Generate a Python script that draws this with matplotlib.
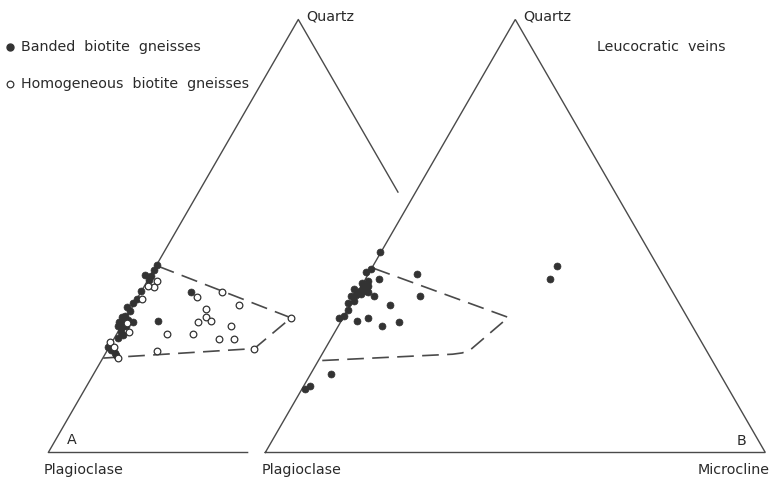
import numpy as np
import matplotlib
matplotlib.use("Agg")
import matplotlib.pyplot as plt

# ---------------- data (Quartz %, Microcline %; Plagioclase = rest) ----------------
# Diagram A
a_banded_q = [43.3, 42.1, 41.0, 40.8, 39.8, 37.4, 35.5, 34.5, 33.7, 32.7, 31.2, 31.5, 30.2, 30.2,
              30.6, 30.2, 29.1, 28.9, 29.2, 27.9, 27.1, 26.4, 24.4, 23.7, 23.0, 22.5, 37.1, 30.3]
a_banded_k = [0.0, 0.0, -1.2, 0.1, 0.3, -0.2, 0.0, -0.3, -1.2, -0.1, -0.9, -0.4, -0.9, 0.0,
              0.7, 1.9, -0.7, 0.2, 0.9, 0.5, 1.4, 0.8, -0.2, 0.7, 1.8, 2.3, 10.0, 6.7]
a_homog_q = [39.7, 38.3, 38.5, 35.5, 29.8, 27.9, 25.5, 24.3, 21.8, 37.1, 36.0, 34.1, 33.1, 31.1,
             31.2, 30.2, 30.3, 29.1, 27.3, 27.4, 26.2, 26.1, 24.0, 23.5]
a_homog_k = [1.8, 1.9, 0.6, 1.0, 0.9, 2.1, -0.4, 0.9, 3.1, 16.1, 11.8, 21.0, 15.0, 33.0,
             16.0, 14.8, 17.4, 22.0, 10.1, 15.2, 21.0, 24.1, 29.1, 9.9]
a_field_q = [43.0, 31.1, 24.0, 21.8]
a_field_k = [0.5, 33.0, 29.2, 0.0]

# Diagram B (Leucocratic veins)
b_veins_q = [46.2, 42.4, 41.7, 40.1, 41.2, 39.7, 39.1, 38.3, 38.5, 37.7, 37.4, 37.4, 36.8, 37.1,
             36.2, 36.4, 36.6, 36.1, 36.1, 34.9, 34.5, 32.9, 34.1, 31.5, 31.1, 30.3, 31.1, 29.1,
             30.1, 18.2, 15.3, 14.6, 43.0, 40.0]
b_veins_k = [-0.2, 0.0, -0.7, 2.6, 9.8, 0.6, -0.3, 0.3, 1.2, -1.1, 0.3, 1.4, 0.0, 1.9,
             -1.0, 0.0, 0.8, 3.7, 12.9, 0.3, -0.8, 0.0, 7.9, 0.0, -0.8, 3.2, 4.9, 8.8,
             11.7, 4.1, 1.3, 0.7, 36.9, 37.0]
b_field_q = [42.5, 31.2, 23.8, 23.0, 22.7, 21.2]
b_field_k = [0.5, 33.0, 29.2, 27.9, 26.1, 0.0]

# Outlines (Quartz %, Microcline %)
a_outline_q = [0, 0, 100, 60]
a_outline_k = [40, 0, 0, 40]
b_outline_q = [0, 100, 0, 0]
b_outline_k = [0, 0, 100, 0]

W, H = 772, 483
B_OFFSET = 0.434
S3 = np.sqrt(3) / 2


def tern(q, k, off=0.0):
    q = np.asarray(q, float) / 100.0
    k = np.asarray(k, float) / 100.0
    return off + k + q / 2.0, q * S3


fig = plt.figure(figsize=(W / 100, H / 100), dpi=100)
ax = fig.add_axes([0, 0, 1, 1])
ax.set_xlim(-48.3 / 500, (W - 48.3) / 500)
ax.set_ylim((452.5 - H) / 500, 452.5 / 500)
ax.axis("off")

LC = "#4a4a4a"
PC = "#333333"

# outlines
x, y = tern(a_outline_q, a_outline_k)
ax.plot(x, y, color=LC, lw=1.0, solid_capstyle="butt")
x, y = tern(b_outline_q, b_outline_k, B_OFFSET)
ax.plot(x, y, color=LC, lw=1.0, solid_joinstyle="miter")

# fields
dash = (0, (10, 5))
x, y = tern(a_field_q, a_field_k)
ax.plot(x, y, color=LC, lw=1.2, linestyle=dash)
x, y = tern(b_field_q, b_field_k, B_OFFSET)
ax.plot(x, y, color=LC, lw=1.2, linestyle=dash)

# points
x, y = tern(a_banded_q, a_banded_k)
ax.plot(x, y, "o", ms=5.0, mfc=PC, mec=PC, mew=0.5, ls="none", zorder=3)
x, y = tern(a_homog_q, a_homog_k)
ax.plot(x, y, "o", ms=4.8, mfc="white", mec=PC, mew=0.9, ls="none", zorder=4)
x, y = tern(b_veins_q, b_veins_k, B_OFFSET)
ax.plot(x, y, "o", ms=5.0, mfc=PC, mec=PC, mew=0.5, ls="none", zorder=3)

# texts
FS = 10.3
TC = "#2a2a2a"


def ftext(px, py, s, **kw):
    fig.text(px / W, 1 - py / H, s, fontsize=kw.pop("fontsize", FS), color=TC,
             family="DejaVu Sans", **kw)


ftext(306, 16, "Quartz", ha="left", va="center")
ftext(523, 17, "Quartz", ha="left", va="center")
ftext(597, 47, "Leucocratic  veins", ha="left", va="center")
ftext(21, 47, "Banded  biotite  gneisses", ha="left", va="center")
ftext(21, 84, "Homogeneous  biotite  gneisses", ha="left", va="center")
ftext(84, 470, "Plagioclase", ha="center", va="center")
ftext(302, 470, "Plagioclase", ha="center", va="center")
ftext(770, 470, "Microcline", ha="right", va="center")
ftext(72, 440, "A", ha="center", va="center")
ftext(742, 441, "B", ha="center", va="center")

# legend markers
ax.plot([10 / W], [1 - 47 / H], "o", ms=5.0, mfc=PC, mec=PC, transform=fig.transFigure, clip_on=False)
ax.plot([10 / W], [1 - 84 / H], "o", ms=4.8, mfc="white", mec=PC, mew=0.9,
        transform=fig.transFigure, clip_on=False)

fig.savefig("out.png", dpi=100, facecolor="white")
